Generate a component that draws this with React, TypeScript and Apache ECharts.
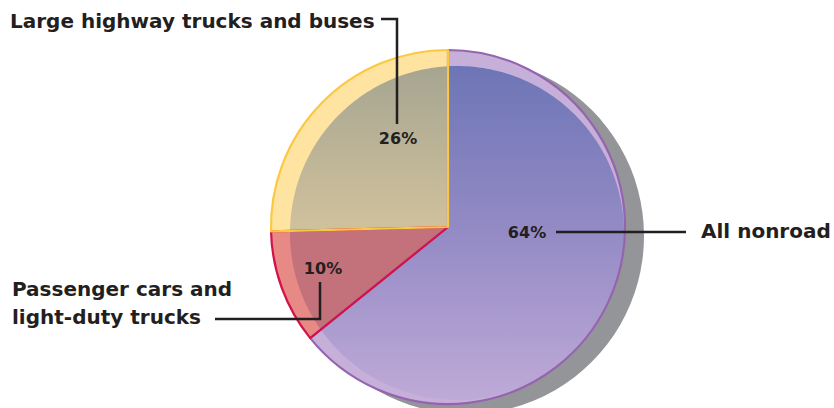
import React, { useEffect, useRef } from "react";
import * as echarts from "echarts";

const categories = ["All nonroad", "Passenger cars and light-duty trucks", "Large highway trucks and buses"];
const shares = [64.2, 10.4, 25.4];
const shareLabels = ["64%", "10%", "26%"];

const bandColors = ["#c6afd9", "#e78a86", "#fee3a1"];
const borderColors = ["#9564b0", "#d4124a", "#fbc941"];

const CX = 448, CY = 227, R = 177;
const ICX = 457, ICY = 233, IR = 167;

const innerFill = (i: number) => {
  if (i === 0)
    return new echarts.graphic.LinearGradient(0, ICY - IR, 0, ICY + IR, [
      { offset: 0, color: "#6d75b6" },
      { offset: 0.5, color: "#948bc5" },
      { offset: 1, color: "#bfaad7" },
    ], true);
  if (i === 1) return "#c3717a";
  return new echarts.graphic.LinearGradient(0, ICY - IR, 0, ICY + IR, [
    { offset: 0, color: "#a6a591" },
    { offset: 0.47, color: "#cfc09c" },
    { offset: 1, color: "#e6d2a4" },
  ], true);
};

export default function App() {
  const ref = useRef<HTMLDivElement>(null);
  useEffect(() => {
    document.body.style.margin = "0";
    const chart = echarts.init(ref.current!, null, { renderer: "svg" });
    const total = shares.reduce((a, b) => a + b, 0);
    const pieData = categories.map((name, i) => ({ name, value: shares[i] }));
    const pctPos: number[][] = [[527, 232], [323, 268], [398, 138]];
    const font = "bold 20px 'DejaVu Sans'";
    const txt = "#231f20";

    const renderItem = (params: any, api: any) => {
      const i = params.dataIndex;
      let before = 0;
      for (let k = 0; k < i; k++) before += shares[k];
      const a0 = (before / total) * Math.PI * 2;
      const a1 = ((before + shares[i]) / total) * Math.PI * 2;
      const n = Math.max(8, Math.ceil((a1 - a0) / 0.02));
      const pts: number[][] = [[CX, CY]];
      const dx = CX - ICX, dy = CY - ICY;
      for (let s = 0; s <= n; s++) {
        const a = a0 + ((a1 - a0) * s) / n;
        const ux = Math.sin(a), uy = -Math.cos(a);
        const b = ux * dx + uy * dy;
        const t = -b + Math.sqrt(b * b - (dx * dx + dy * dy) + IR * IR);
        pts.push([CX + ux * t, CY + uy * t]);
      }
      return {
        type: "polygon",
        shape: { points: pts },
        style: { fill: innerFill(i), stroke: null },
      };
    };

    chart.setOption({
      animation: false,
      graphic: [
        { type: "circle", z: 0, shape: { cx: CX + 18, cy: CY + 9, r: R + 1 }, style: { fill: "#939598" } },
        { type: "text", z: 10, style: { text: "Large highway trucks and buses", x: 10, y: 21, font, fill: txt, textVerticalAlign: "middle" } },
        { type: "polyline", z: 10, shape: { points: [[381, 19], [397, 19], [397, 124]] }, style: { stroke: txt, lineWidth: 2.5, fill: null } },
        { type: "text", z: 10, style: { text: "All nonroad", x: 701, y: 231, font, fill: txt, textVerticalAlign: "middle" } },
        { type: "line", z: 10, shape: { x1: 556, y1: 232, x2: 686, y2: 232 }, style: { stroke: txt, lineWidth: 2.5 } },
        { type: "text", z: 10, style: { text: "Passenger cars and\nlight-duty trucks", x: 12, y: 303, font, lineHeight: 28, fill: txt, textVerticalAlign: "middle" } },
        { type: "polyline", z: 10, shape: { points: [[320, 282], [320, 319], [215, 319]] }, style: { stroke: txt, lineWidth: 2.5, fill: null } },
      ],
      series: [
        {
          type: "pie", z: 1, center: [CX, CY], radius: R, startAngle: 90, clockwise: true,
          silent: true, label: { show: false }, labelLine: { show: false },
          data: pieData.map((d, i) => ({ ...d, itemStyle: { color: bandColors[i], borderWidth: 0 } })),
        },
        {
          type: "custom", z: 2, coordinateSystem: "none", silent: true,
          renderItem, data: shares.map((v) => [v]),
        },
        {
          type: "pie", z: 3, center: [CX, CY], radius: R, startAngle: 90, clockwise: true,
          silent: true,
          label: {
            show: true, position: "inside", color: txt, fontFamily: "DejaVu Sans", fontWeight: "bold", fontSize: 16,
            formatter: (p: any) => shareLabels[p.dataIndex],
          },
          labelLine: { show: false },
          labelLayout: (p: any) => ({ x: pctPos[p.dataIndex][0], y: pctPos[p.dataIndex][1], align: "center", verticalAlign: "middle" }),
          data: pieData.map((d, i) => ({ ...d, itemStyle: { color: "rgba(0,0,0,0)", borderColor: borderColors[i], borderWidth: 2.2 } })),
        },
      ],
    });
    return () => chart.dispose();
  }, []);
  return <div ref={ref} style={{ width: 834, height: 408 }} />;
}
